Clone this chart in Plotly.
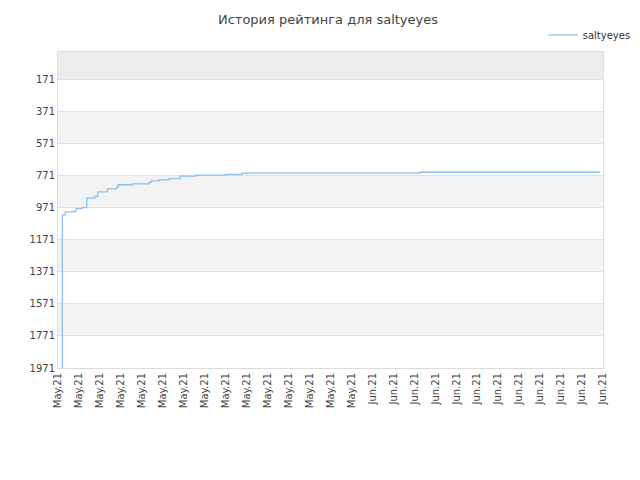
import plotly.graph_objects as go

x_labels = ["May.21"]*15 + ["Jun.21"]*12
x_px = [54.3, 54.3, 57.3, 65.7, 68.3, 74, 79, 87.3, 90, 99, 100, 109, 110.7, 125, 142, 144, 151.7,
        162.3, 173.3, 189, 219, 235.7, 415, 597]
rating = [1971, 1016, 997, 994, 977, 971, 911, 901, 872, 871, 854, 844, 828, 823, 813, 804, 798,
          790, 774, 768, 764, 756, 750, 750]
x_vals = [(p - 50) / 21.15 for p in x_px]
tick_vals = [171, 371, 571, 771, 971, 1171, 1371, 1571, 1771, 1971]

fig = go.Figure()
fig.add_trace(go.Scatter(x=x_vals, y=rating, mode="lines", line_shape="hv", name="saltyeyes",
                         line=dict(color="#8cc0f0", width=1.3)))
bands = [(0, 171, "#ececec")] + [(tick_vals[i], tick_vals[i+1], "#f3f3f3" if i % 2 == 1 else "#ffffff")
                                  for i in range(len(tick_vals)-1)]
for y0, y1, c in bands:
    fig.add_hrect(y0=y0, y1=y1, fillcolor=c, line_width=0, layer="below")

fig.update_layout(
    width=640, height=480, paper_bgcolor="white", plot_bgcolor="white",
    margin=dict(l=50, r=40, t=40, b=120),
    title=dict(text="История рейтинга для saltyeyes", x=0.5, y=0.985, yanchor="top", xanchor="center",
               font=dict(family="DejaVu Sans", size=13, color="#444")),
    font=dict(family="DejaVu Sans", size=10, color="#444"),
    showlegend=True,
    legend=dict(x=1.06, y=1.1, xanchor="right", yanchor="top", bgcolor="rgba(0,0,0,0)",
                itemwidth=30, font=dict(size=10, color="#333")),
)
fig.update_xaxes(range=[0, 26], tickvals=list(range(27)), ticktext=x_labels, tickangle=-90,
                 showgrid=False, zeroline=False, showline=True, linecolor="#ddd", mirror=True,
                 ticks="", automargin=False, tickfont=dict(size=10, color="#444"))
fig.update_yaxes(range=[1971, 0], tickvals=tick_vals, showgrid=True, gridcolor="#e0e0e0",
                 zeroline=False, showline=True, linecolor="#ddd", mirror=True, ticks="",
                 automargin=False, tickfont=dict(size=10, color="#444"))
fig.write_html("out.html")
